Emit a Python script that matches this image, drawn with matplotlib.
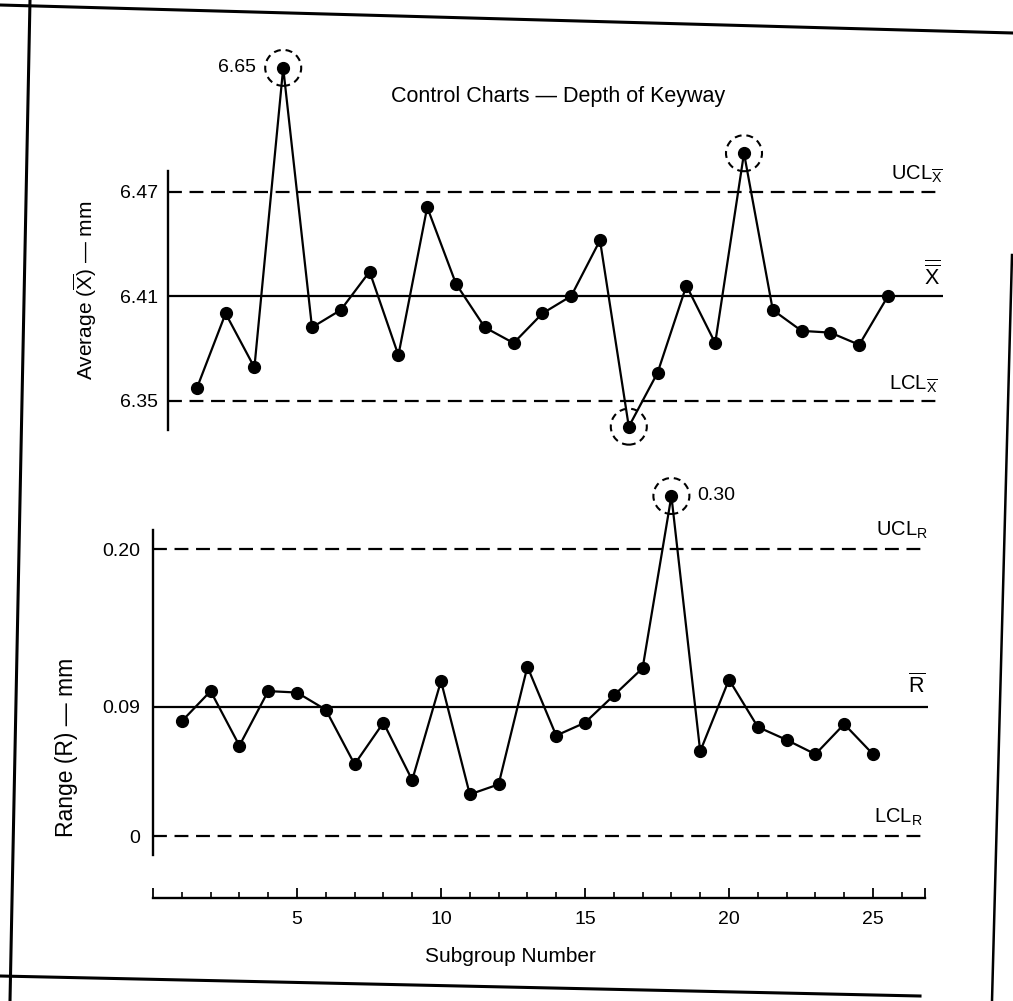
import matplotlib
matplotlib.use("Agg")
import matplotlib.pyplot as plt
from matplotlib.lines import Line2D
from matplotlib.patches import Circle
from matplotlib.transforms import ScaledTranslation

# --- data ---
subgroups = list(range(1, 26))

# subgroup averages as drawn (point 4 is drawn off-scale, labelled 6.65)
xbar = [6.357, 6.400, 6.369, 6.541, 6.392, 6.402, 6.424, 6.376, 6.461, 6.417,
        6.392, 6.383, 6.400, 6.410, 6.442, 6.335, 6.366, 6.416, 6.383, 6.492,
        6.402, 6.390, 6.389, 6.382, 6.410]
xbar_ucl, xbar_cl, xbar_lcl = 6.47, 6.41, 6.35
xbar_ticks = [6.35, 6.41, 6.47]
xbar_ticklabels = ["6.35", "6.41", "6.47"]
xbar_circled = [4, 16, 20]
xbar_note = "6.65"

# subgroup ranges as drawn (point 18 is drawn off-scale, labelled 0.30)
rng = [0.080, 0.101, 0.063, 0.101, 0.100, 0.088, 0.050, 0.079, 0.039, 0.108,
       0.029, 0.036, 0.118, 0.070, 0.079, 0.098, 0.117, 0.237, 0.059, 0.109,
       0.076, 0.067, 0.057, 0.078, 0.057]
r_ucl, r_cl, r_lcl = 0.20, 0.09, 0.0
r_ticks = [0, 0.09, 0.20]
r_ticklabels = ["0", "0.09", "0.20"]
r_circled = [18]
r_note = "0.30"

x_major = [0, 5, 10, 15, 20, 25, 26.8]
x_major_labels = ["", "5", "10", "15", "20", "25", ""]
x_minor = [1, 2, 3, 4, 6, 7, 8, 9, 11, 12, 13, 14, 16, 17, 18, 19, 21, 22, 23, 24, 26]

plt.rcParams["font.family"] = ["Liberation Sans", "DejaVu Sans"]
plt.rcParams["mathtext.fontset"] = "custom"
plt.rcParams["mathtext.rm"] = "Liberation Sans"
plt.rcParams["mathtext.it"] = "Liberation Sans:italic"
plt.rcParams["mathtext.bf"] = "Liberation Sans:bold"
plt.rcParams["lines.scale_dashes"] = False

W, H = 1013, 1001
fig = plt.figure(figsize=(W / 100, H / 100), dpi=100)


def px_box(left, top, right, bottom):
    return [left / W, 1 - bottom / H, (right - left) / W, (bottom - top) / H]


def fig_line(x0, y0, x1, y1, lw=2.2):
    fig.add_artist(Line2D([x0 / W, x1 / W], [1 - y0 / H, 1 - y1 / H],
                          transform=fig.transFigure, color="k", lw=lw))


def ring(ax, x, y, r_px=18):
    # dashed circle of fixed pixel size around a flagged point
    c = Circle((0, 0), r_px / 100, fill=False, ec="k", lw=1.5, ls=(0, (5, 3.5)),
               transform=fig.dpi_scale_trans + ScaledTranslation(x, y, ax.transData))
    fig.add_artist(c)


DASH = (0, (10, 5.5))
LINE_END = 26.9
XMAX = 27.2
UNIT = 28.8  # px per subgroup

# scanned page frame
fig_line(0, 5, 1013, 33)
fig_line(30, 0, 10, 1001)
fig_line(0, 976, 920, 996)
fig_line(1012, 255, 992, 1001, lw=1.8)

# ---------------- X-bar chart ----------------
ax1 = fig.add_axes(px_box(168, 40, 168 + XMAX * UNIT, 450))
ax1.set_xlim(0, XMAX)
ax1.set_ylim(6.3216, 6.557)
for s in ["top", "right", "bottom"]:
    ax1.spines[s].set_visible(False)
ax1.spines["left"].set_bounds(6.333, 6.482)
ax1.spines["left"].set_linewidth(1.7)
ax1.set_xticks([])
ax1.set_yticks(xbar_ticks)
ax1.set_yticklabels(xbar_ticklabels, fontsize=14)
ax1.tick_params(axis="y", length=0, pad=7)

ax1.hlines([xbar_ucl, xbar_lcl], 0, LINE_END, colors="k", lw=1.6, linestyles=[DASH])
ax1.hlines(xbar_cl, 0, LINE_END, colors="k", lw=1.6)
ax1.plot(subgroups, xbar, "-", color="k", lw=1.6, marker="o", ms=8.5, clip_on=False, zorder=3)
for i in xbar_circled:
    ring(ax1, subgroups[i - 1], xbar[i - 1])
ax1.annotate(xbar_note, (subgroups[3], xbar[3]), xytext=(-27, 0), textcoords="offset pixels",
             ha="right", va="center", fontsize=14)

ax1.annotate(r"UCL$_{\overline{\mathrm{X}}}$", (LINE_END, xbar_ucl), xytext=(0, 6),
             textcoords="offset pixels", ha="right", va="bottom", fontsize=14.5)
ax1.annotate(r"$\overline{\overline{\mathrm{X}}}$", (LINE_END, xbar_cl), xytext=(-2, 6),
             textcoords="offset pixels", ha="right", va="bottom", fontsize=15.5)
ax1.annotate(r"LCL$_{\overline{\mathrm{X}}}$", (LINE_END, xbar_lcl), xytext=(-5, 5),
             textcoords="offset pixels", ha="right", va="bottom", fontsize=14.5)

# ---------------- R chart ----------------
ax2 = fig.add_axes(px_box(153, 470, 153 + XMAX * UNIT, 898))
ax2.set_xlim(0, XMAX)
ax2.set_ylim(-0.0432, 0.2551)
for s in ["top", "right"]:
    ax2.spines[s].set_visible(False)
ax2.spines["left"].set_bounds(-0.013, 0.213)
ax2.spines["left"].set_linewidth(1.7)
ax2.spines["bottom"].set_bounds(0, 26.8)
ax2.spines["bottom"].set_linewidth(1.7)
ax2.set_yticks(r_ticks)
ax2.set_yticklabels(r_ticklabels, fontsize=14)
ax2.tick_params(axis="y", length=0, pad=9)
ax2.set_xticks(x_major)
ax2.set_xticklabels(x_major_labels, fontsize=14)
ax2.set_xticks(x_minor, minor=True)
ax2.tick_params(axis="x", which="major", direction="in", length=7.5, width=1.3, pad=9)
ax2.tick_params(axis="x", which="minor", direction="in", length=4, width=1.2)

ax2.hlines([r_ucl, r_lcl], 0, LINE_END, colors="k", lw=1.6, linestyles=[DASH])
ax2.hlines(r_cl, 0, LINE_END, colors="k", lw=1.6)
ax2.plot(subgroups, rng, "-", color="k", lw=1.6, marker="o", ms=8.5, clip_on=False, zorder=3)
for i in r_circled:
    ring(ax2, subgroups[i - 1], rng[i - 1])
ax2.annotate(r_note, (subgroups[17], rng[17]), xytext=(26, 0), textcoords="offset pixels",
             ha="left", va="center", fontsize=14)

ax2.annotate(r"UCL$_\mathrm{R}$", (LINE_END, r_ucl), xytext=(0, 8),
             textcoords="offset pixels", ha="right", va="bottom", fontsize=14.5)
ax2.annotate(r"$\overline{\mathrm{R}}$", (LINE_END, r_cl), xytext=(-2, 9),
             textcoords="offset pixels", ha="right", va="bottom", fontsize=15.5)
ax2.annotate(r"LCL$_\mathrm{R}$", (LINE_END, r_lcl), xytext=(-5, 8),
             textcoords="offset pixels", ha="right", va="bottom", fontsize=14.5)

# ---------------- titles / labels ----------------
fig.text(558 / W, 1 - 97 / H, "Control Charts \u2014 Depth of Keyway",
         ha="center", va="center", fontsize=15.5)
fig.text(85 / W, 1 - 290 / H, "Average ($\\overline{\\mathrm{X}}$) \u2014 mm",
         ha="center", va="center", rotation=90, fontsize=15)
fig.text(67 / W, 1 - 747 / H, "Range (R) \u2014 mm",
         ha="center", va="center", rotation=90, fontsize=16.5)
fig.text(510 / W, 1 - 957 / H, "Subgroup Number", ha="center", va="center", fontsize=15)

fig.savefig("out.png", dpi=100, facecolor="white")
